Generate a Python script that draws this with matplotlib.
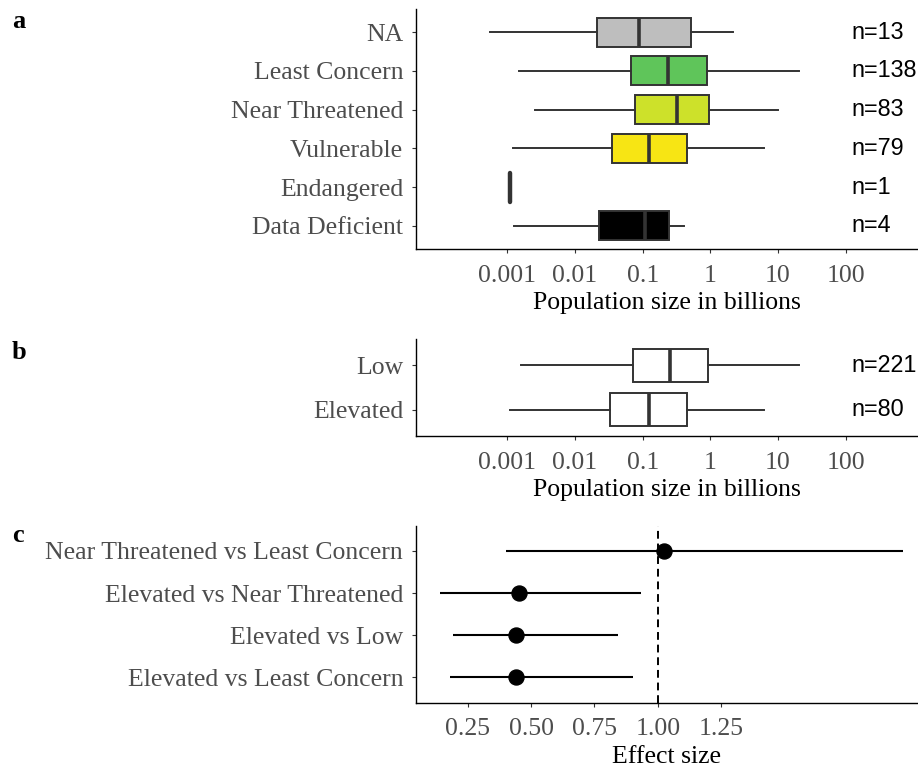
import matplotlib
matplotlib.use("Agg")
import matplotlib.pyplot as plt
import numpy as np

plt.rcParams['font.family'] = ['Liberation Serif', 'DejaVu Serif']

# Panel a: population size by IUCN category (bottom to top)
iucn_cats = ['Data Deficient', 'Endangered', 'Vulnerable', 'Near Threatened', 'Least Concern', 'NA']
iucn_n = [4, 1, 79, 83, 138, 13]
iucn_colors = ['#000000', '#000000', '#F7E514', '#CDE12A', '#5FC55A', '#BEBEBE']
iucn_whislo = [0.00127, 0.0011, 0.00123, 0.0026, 0.0015, 0.00056]
iucn_q1 = [0.0227, 0.0011, 0.0355, 0.076, 0.068, 0.0213]
iucn_med = [0.109, 0.0011, 0.125, 0.32, 0.238, 0.089]
iucn_q3 = [0.245, 0.0011, 0.445, 0.95, 0.88, 0.516]
iucn_whishi = [0.41, 0.0011, 6.3, 10.0, 20.2, 2.18]

# Panel b: population size by risk level
risk_cats = ['Elevated', 'Low']
risk_n = [80, 221]
risk_whislo = [0.00111, 0.00158]
risk_q1 = [0.0327, 0.071]
risk_med = [0.126, 0.255]
risk_q3 = [0.45, 0.93]
risk_whishi = [6.3, 20.2]

# Panel c: effect sizes with confidence intervals
comparisons = ['Elevated vs Least Concern', 'Elevated vs Low',
               'Elevated vs Near Threatened', 'Near Threatened vs Least Concern']
effect = [0.439, 0.442, 0.453, 1.026]
ci_low = [0.181, 0.193, 0.141, 0.40]
ci_high = [0.901, 0.843, 0.932, 1.965]

W, H = 918, 767
fig = plt.figure(figsize=(W / 100, H / 100), dpi=100)

def px_axes(left, right, bottom, top):
    return fig.add_axes([left / W, 1 - bottom / H, (right - left) / W, (bottom - top) / H])

grey_txt = '#4D4D4D'
edge = '#333333'

def style(ax):
    for s in ['top', 'right']:
        ax.spines[s].set_visible(False)
    for s in ['left', 'bottom']:
        ax.spines[s].set_linewidth(1.0)
        ax.spines[s].set_color('black')
    ax.tick_params(axis='both', length=3.2, width=0.8, color=edge, labelcolor=grey_txt,
                   labelsize=18.5)
    ax.tick_params(axis='y', pad=6)
    ax.tick_params(axis='x', pad=8)
    ax.minorticks_off()

def boxes(ax, whislo, q1, med, q3, whishi, colors):
    stats = []
    for i in range(len(med)):
        stats.append(dict(whislo=whislo[i], q1=q1[i], med=med[i], q3=q3[i], whishi=whishi[i]))
    pos = np.arange(1, len(med) + 1)
    bp = ax.bxp(stats, positions=pos, vert=False, widths=0.75, patch_artist=True,
                showfliers=False, showcaps=False,
                boxprops=dict(edgecolor=edge, linewidth=1.4),
                whiskerprops=dict(color=edge, linewidth=1.4),
                medianprops=dict(color=edge, linewidth=2.6, solid_capstyle='butt'))
    for patch, c in zip(bp['boxes'], colors):
        patch.set_facecolor(c)
    return pos, bp

log_lim = (10 ** -4.35, 10 ** 3.07)
log_ticks = [0.001, 0.01, 0.1, 1, 10, 100]
log_labels = ['0.001', '0.01', '0.1', '1', '10', '100']
n_x = 10 ** 2.09

# Panel a
ax_a = px_axes(416, 918, 249, 9)
pos, bp = boxes(ax_a, iucn_whislo, iucn_q1, iucn_med, iucn_q3, iucn_whishi, iucn_colors)
# single-value group collapses to a thick bar
bp['medians'][1].set_linewidth(3.2)
bp['medians'][1].set_solid_capstyle('round')
ax_a.set_xscale('log')
ax_a.set_xlim(*log_lim)
ax_a.set_ylim(0.4, len(pos) + 0.6)
ax_a.set_yticks(pos)
ax_a.set_yticklabels(iucn_cats)
ax_a.set_xticks(log_ticks)
ax_a.set_xticklabels(log_labels)
ax_a.set_xlabel('Population size in billions', fontsize=18.5, labelpad=4)
style(ax_a)
for p, n in zip(pos, iucn_n):
    ax_a.text(n_x, p, f'n={n}', ha='left', va='center', fontsize=16.8,
              family='Liberation Sans', color='black')

# Panel b
ax_b = px_axes(416, 918, 436, 339)
pos, bp = boxes(ax_b, risk_whislo, risk_q1, risk_med, risk_q3, risk_whishi, ['white', 'white'])
ax_b.set_xscale('log')
ax_b.set_xlim(*log_lim)
ax_b.set_ylim(0.4, len(pos) + 0.6)
ax_b.set_yticks(pos)
ax_b.set_yticklabels(risk_cats)
ax_b.set_xticks(log_ticks)
ax_b.set_xticklabels(log_labels)
ax_b.set_xlabel('Population size in billions', fontsize=18.5, labelpad=4)
style(ax_b)
for p, n in zip(pos, risk_n):
    ax_b.text(n_x, p, f'n={n}', ha='left', va='center', fontsize=16.8,
              family='Liberation Sans', color='black')

# Panel c
ax_c = px_axes(416, 918, 702.7, 525.5)
yc = np.arange(1, len(comparisons) + 1)
ax_c.hlines(yc, ci_low, ci_high, color='black', linewidth=1.5)
ax_c.plot(effect, yc, 'o', color='black', markersize=10.8)
ax_c.axvline(1.0, color='black', linestyle=(0, (4, 2.5)), linewidth=1.4)
ax_c.set_xlim(0.046, 2.026)
ax_c.set_ylim(0.4, len(yc) + 0.6)
ax_c.set_yticks(yc)
ax_c.set_yticklabels(comparisons)
ax_c.set_xticks([0.25, 0.5, 0.75, 1.0, 1.25])
ax_c.set_xticklabels(['0.25', '0.50', '0.75', '1.00', '1.25'])
ax_c.set_xlabel('Effect size', fontsize=18.5, labelpad=4)
style(ax_c)

# Panel letters
for lab, yb in [('a', 28), ('b', 359), ('c', 542)]:
    fig.text(12 / W, 1 - yb / H, lab, fontsize=19, fontweight='bold', va='baseline', ha='left')

fig.savefig('out.png', dpi=100)
